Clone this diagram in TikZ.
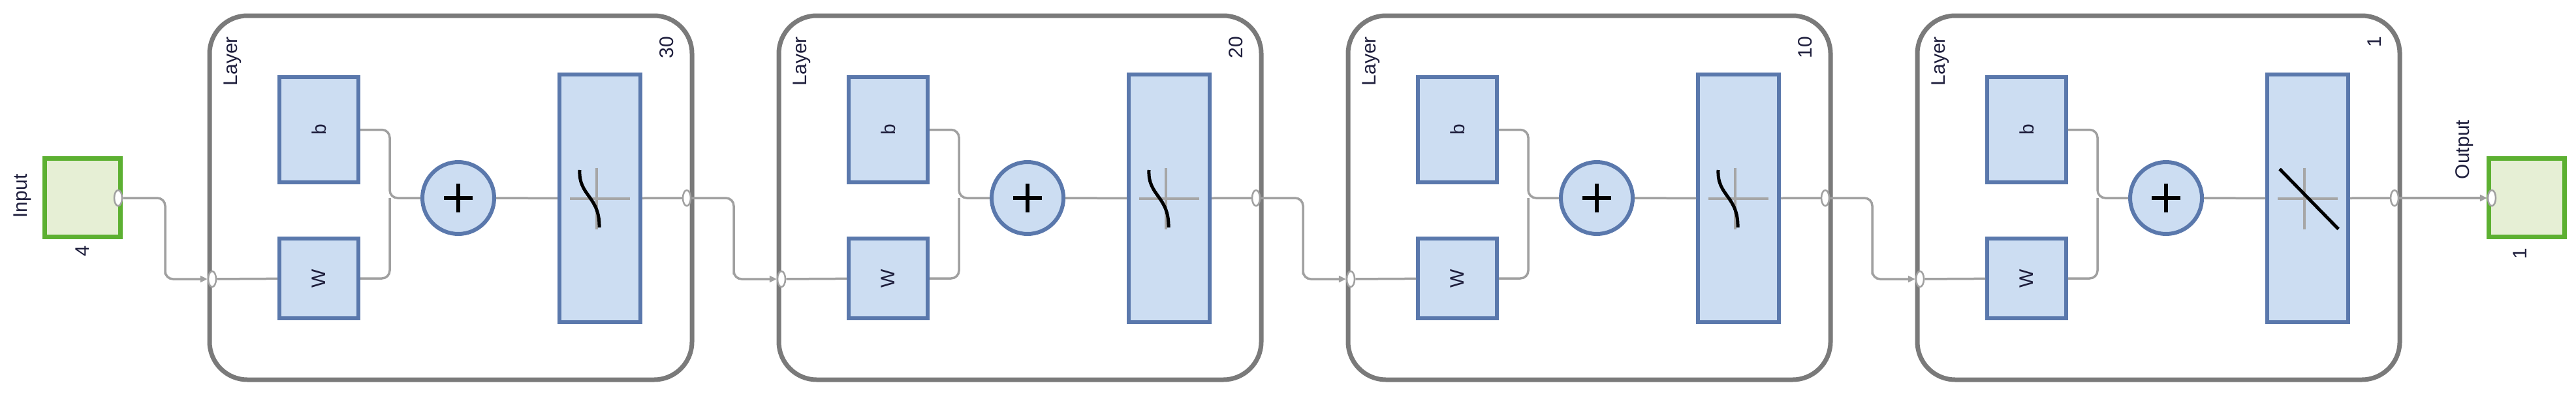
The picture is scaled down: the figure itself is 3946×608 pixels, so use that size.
\documentclass[tikz,border=0pt]{standalone}
\usepackage{fontspec}
\setmainfont{Liberation Sans}
\usetikzlibrary{arrows.meta,shapes.geometric}
\definecolor{blkfill}{HTML}{CCDDF2}
\definecolor{blkline}{HTML}{5A78AC}
\definecolor{grfill}{HTML}{E6EFD5}
\definecolor{grline}{HTML}{5CB031}
\definecolor{layline}{HTML}{7A7A7A}
\definecolor{conn}{HTML}{A0A0A0}
\definecolor{txt}{HTML}{1E1E3C}
\begin{document}
\begin{tikzpicture}[x=1pt,y=-1pt,
  blk/.style={draw=blkline,fill=blkfill,line width=6pt,inner sep=0pt},
  iobox/.style={draw=grline,fill=grfill,line width=7pt,minimum width=116pt,minimum height=120pt,inner sep=0pt},
  layerbox/.style={draw=layline,line width=7pt,rounded corners=58pt,minimum width=739pt,minimum height=557pt,inner sep=0pt},
  port/.style={ellipse,draw=conn,fill=white,line width=2.5pt,minimum width=12pt,minimum height=24pt,inner sep=0pt},
  wire/.style={draw=conn,line width=3.5pt,rounded corners=12pt},
  arr/.style={wire,-{Triangle[length=11pt,width=10pt]}},
  lbl/.style={font=\fontsize{30}{36}\selectfont,text=txt,rotate=90,inner sep=0pt},
  glyph/.style={line width=5pt,black},
  axis/.style={line width=4pt,color=black!35}]
\useasboundingbox (0,0) rectangle (3946,608);
% Input
\node[iobox] (inbox) at (126,302.5) {};
\node[port] (inport) at (181,303) {};
\node[lbl,anchor=center] (inlbl) at (34,300) {Input};
\node[lbl,anchor=east] (innum) at (126,376) {4};
% Output
\node[iobox] (outbox) at (3870,302.5) {};
\node[port] (outin) at (3817,303) {};
\node[lbl,anchor=south] (outlbl) at (3789,229) {Output};
\node[lbl,anchor=east] (outnum) at (3860,380) {1};
\foreach \i/\n/\lin in {1/30/0,2/20/0,3/10/0,4/1/1}{
  \pgfmathsetmacro{\dx}{872*(\i-1)}
  \begin{scope}[xshift=\dx]
    \node[layerbox] (L\i) at (690.5,302.5) {};
    \node[lbl,anchor=east] (Ll\i) at (356,56) {Layer};
    \node[lbl,anchor=east] (Ln\i) at (1021,56) {\n};
    \node[blk,minimum width=121pt,minimum height=161pt,label={[lbl]center:b}] (b\i) at (488.5,198.5) {};
    \node[blk,minimum width=121pt,minimum height=122pt,label={[lbl]center:W}] (W\i) at (488.5,426) {};
    \node[blk,circle,minimum size=110pt] (s\i) at (702,303) {};
    \draw[line width=6pt] (s\i.center) ++(-22,0) -- ++(44,0) (s\i.center) ++(0,-22) -- ++(0,44);
    \node[blk,minimum width=124pt,minimum height=379pt] (f\i) at (919,303.5) {};
    \draw[axis] (f\i.center) ++(-46,0) -- ++(92,0) (f\i.center) ++(-5,-47) -- ++(0,94);
    \ifnum\lin=0
      \draw[glyph] (888,260) .. controls (886,300) and (919,300) .. (918,348);
    \else
      \draw[glyph] (f\i.center) ++(-43,-45) -- ++(90,92);
    \fi
    \node[port] (pin\i) at (325,427) {};
    \node[port] (pout\i) at (1052,303) {};
    \coordinate (m\i) at (597,303);
    \draw[wire] (pin\i) -- (W\i);
    \draw[wire] (b\i.east) -| (m\i) -- (s\i.west);
    \draw[wire] (W\i.east) -| (m\i);
    \draw[wire] (s\i) -- (f\i);
    \draw[wire] (f\i) -- (pout\i);
  \end{scope}
}
\draw[arr] (inport) -| ++(72,124) |- (pin1);
\foreach \a/\b in {1/2,2/3,3/4}{
  \draw[arr] (pout\a) -| ++(72,124) |- (pin\b);
}
\draw[arr] (pout4) -- (outin);
\end{tikzpicture}
\end{document}
